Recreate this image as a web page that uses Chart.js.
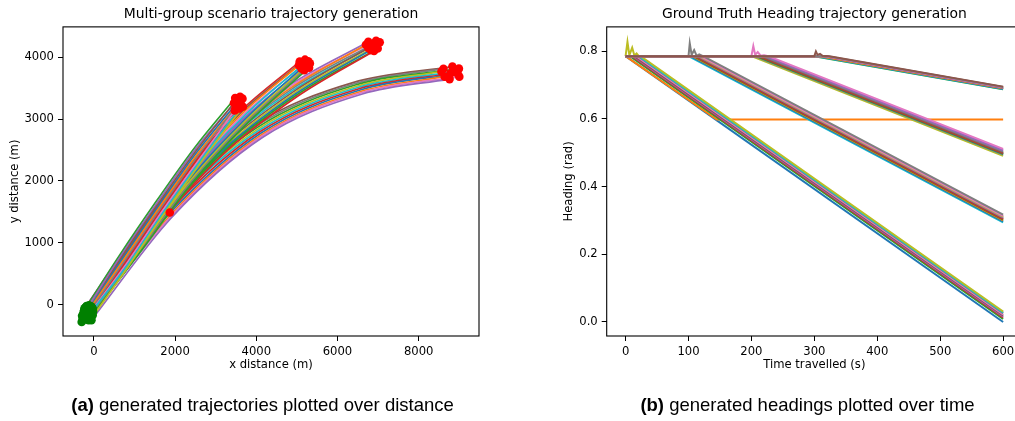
<!DOCTYPE html>
<html><head><meta charset="utf-8">
<script src="https://cdn.jsdelivr.net/npm/chart.js@4.4.0/dist/chart.umd.min.js"></script>
<style>
html,body{margin:0;padding:0;background:#fff;overflow:hidden;width:1015px;height:421px;position:relative;}
#c1{position:absolute;left:0;top:0;}
#c2{position:absolute;left:530px;top:0;}
.cap{position:absolute;top:395px;line-height:20px;font-family:"Liberation Sans",Arial,sans-serif;font-size:18.5px;color:#000;white-space:nowrap;transform:translateX(-50%);}
</style></head><body>
<canvas id="c1" width="500" height="421"></canvas>
<canvas id="c2" width="500" height="421"></canvas>
<div class="cap" style="left:262.5px"><b>(a)</b> generated trajectories plotted over distance</div>
<div class="cap" style="left:807.5px"><b>(b)</b> generated headings plotted over time</div>
<script>
// ---------- palette ----------
const TAB = {blue:'#1f77b4', orange:'#ff7f0e', green:'#2ca02c', red:'#d62728', purple:'#9467bd',
  brown:'#8c564b', pink:'#e377c2', gray:'#7f7f7f', olive:'#bcbd22', cyan:'#17becf'};

// ---------- left chart: trajectories (x, y in m) ----------
const leftXTicks = [0, 2000, 4000, 6000, 8000];
const leftYTicks = [0, 1000, 2000, 3000, 4000];

const colorsD = ['brown','gray','green','olive','cyan','red','blue','orange','pink','purple'];
const trajD = [
  [[-200,-40],[1680,1590],[3930,2890],[6380,3590],[8830,3849]],
  [[-250,-120],[1710,1570],[3960,2870],[6410,3570],[8610,3814]],
  [[-140,-70],[1740,1550],[3990,2850],[6440,3550],[8990,3815]],
  [[-280,-230],[1770,1530],[4020,2830],[6470,3530],[8560,3767]],
  [[-100,-110],[1800,1510],[4050,2810],[6500,3510],[8850,3763]],
  [[-170,-180],[1830,1490],[4080,2790],[6530,3490],[8780,3737]],
  [[-60,-90],[1860,1470],[4110,2770],[6560,3470],[8960,3732]],
  [[-120,-220],[1890,1450],[4140,2750],[6590,3450],[8640,3685]],
  [[-40,-150],[1900,1430],[4150,2730],[6600,3430],[9000,3686]],
  [[-60,-250],[1910,1405],[4160,2705],[6610,3405],[8760,3646]]
];
const colorsC = ['purple','pink','orange','gray','cyan','brown','olive','blue','green','red'];
const trajC = [
  [[-230,-60],[1270,1360],[2950,2590],[4800,3540],[6760,4250]],
  [[-160,-30],[1292,1340],[2972,2570],[4822,3520],[6950,4265]],
  [[-290,-180],[1314,1320],[2994,2550],[4844,3500],[6700,4200]],
  [[-130,-100],[1336,1300],[3016,2530],[4866,3480],[6880,4215]],
  [[-200,-160],[1358,1280],[3038,2510],[4888,3460],[7040,4240]],
  [[-80,-60],[1380,1260],[3060,2490],[4910,3440],[6760,4150]],
  [[-150,-210],[1402,1240],[3082,2470],[4932,3420],[6920,4170]],
  [[-50,-120],[1424,1220],[3104,2450],[4954,3400],[6820,4115]],
  [[-100,-190],[1446,1200],[3126,2430],[4976,3380],[6990,4140]],
  [[-30,-170],[1468,1180],[3148,2410],[4998,3360],[6900,4100]]
];
const colorsB = ['red','brown','orange','pink','cyan','purple','blue','olive','gray','green'];
const trajB = [
  [[-180,-20],[975,1058],[2233,2155],[3604,3125],[5070,3930]],
  [[-260,-150],[997,1038],[2255,2135],[3626,3105],[5200,3960]],
  [[-110,-40],[1019,1018],[2277,2115],[3648,3085],[5050,3870]],
  [[-210,-200],[1041,998],[2299,2095],[3670,3065],[5280,3935]],
  [[-70,-80],[1063,978],[2321,2075],[3692,3045],[5150,3880]],
  [[-160,-140],[1085,958],[2343,2055],[3714,3025],[5320,3900]],
  [[-40,-50],[1107,938],[2365,2035],[3736,3005],[5110,3820]],
  [[-130,-250],[1129,918],[2387,2015],[3758,2985],[5240,3850]],
  [[-20,-110],[1151,898],[2409,1995],[3780,2965],[5180,3790]],
  [[-90,-210],[1173,878],[2431,1975],[3802,2945],[5300,3830]]
];
const colorsA = ['green','purple','brown','blue','orange','gray','red','pink','cyan','olive'];
const trajA = [
  [[-240,-90],[654,821],[1558,1691],[2486,2542],[3480,3340]],
  [[-120,-10],[676,799],[1580,1669],[2508,2520],[3600,3360]],
  [[-300,-280],[698,777],[1602,1647],[2530,2498],[3450,3260]],
  [[-190,-130],[720,755],[1624,1625],[2552,2476],[3560,3290]],
  [[-60,-30],[742,733],[1646,1603],[2574,2454],[3660,3330]],
  [[-230,-240],[764,711],[1668,1581],[2596,2432],[3500,3190]],
  [[-100,-150],[786,689],[1690,1559],[2618,2410],[3620,3240]],
  [[-25,-70],[808,667],[1712,1537],[2640,2388],[3470,3140]],
  [[-160,-200],[830,645],[1734,1515],[2662,2366],[3580,3170]],
  [[-70,-230],[852,623],[1756,1493],[2684,2344],[3670,3200]]
];
const loneRedPoint = [[1870,1490]];

// ---------- right chart: heading (rad) over time (s) ----------
const rightXTicks = [0, 100, 200, 300, 400, 500, 600];
const rightYTicks = [0, 0.2, 0.4, 0.6, 0.8];

const colorsH1 = ['blue','orange','green','red','purple','brown','pink','gray','cyan','olive'];
const head1 = [
  [[0,0.785],[600,0.000]],
  [[0,0.785],[145,0.598],[600,0.598]],
  [[0,0.785],[7,0.785],[600,0.009]],
  [[0,0.785],[10,0.785],[600,0.013]],
  [[0,0.785],[12,0.785],[600,0.016]],
  [[0,0.785],[14,0.785],[600,0.019]],
  [[0,0.785],[17,0.785],[600,0.022]],
  [[0,0.785],[20,0.785],[600,0.026]],
  [[0,0.785],[21,0.785],[600,0.028]],
  [[0,0.785],[3,0.827],[6,0.788],[10.5,0.81],[14,0.787],[17.5,0.793],[21,0.785],[24,0.785],[600,0.031]]
];
const colorsH2 = ['cyan','blue','orange','green','red','brown','purple','olive','pink','gray'];
const head2 = [
  [[0,0.785],[100,0.785],[600,0.294]],
  [[0,0.785],[103,0.785],[600,0.297]],
  [[0,0.785],[106,0.785],[600,0.300]],
  [[0,0.785],[108,0.785],[600,0.302]],
  [[0,0.785],[110,0.785],[600,0.304]],
  [[0,0.785],[113,0.785],[600,0.307]],
  [[0,0.785],[115,0.785],[600,0.309]],
  [[0,0.785],[117,0.785],[600,0.311]],
  [[0,0.785],[119,0.785],[600,0.313]],
  [[0,0.785],[100,0.785],[102,0.823],[105,0.789],[109,0.803],[113,0.786],[117,0.79],[123,0.785],[600,0.317]]
];
const colorsH3 = ['olive','cyan','orange','blue','green','red','brown','gray','purple','pink'];
const head3 = [
  [[0,0.785],[200,0.785],[600,0.491]],
  [[0,0.785],[204,0.785],[600,0.494]],
  [[0,0.785],[205,0.785],[600,0.495]],
  [[0,0.785],[207,0.785],[600,0.496]],
  [[0,0.785],[208,0.785],[600,0.497]],
  [[0,0.785],[211,0.785],[600,0.499]],
  [[0,0.785],[214,0.785],[600,0.501]],
  [[0,0.785],[218,0.785],[600,0.504]],
  [[0,0.785],[222,0.785],[600,0.507]],
  [[0,0.785],[200,0.785],[203,0.815],[206,0.789],[210,0.797],[215,0.786],[220,0.788],[227,0.785],[600,0.511]]
];
const colorsH4 = ['green','cyan','blue','orange','olive','red','purple','pink','gray','brown'];
const head4 = [
  [[0,0.785],[300,0.785],[600,0.687]],
  [[0,0.785],[303,0.785],[600,0.688]],
  [[0,0.785],[306,0.785],[600,0.689]],
  [[0,0.785],[309,0.785],[600,0.690]],
  [[0,0.785],[312,0.785],[600,0.691]],
  [[0,0.785],[315,0.785],[600,0.692]],
  [[0,0.785],[317,0.785],[600,0.692]],
  [[0,0.785],[318,0.785],[600,0.693]],
  [[0,0.785],[321,0.785],[600,0.694]],
  [[0,0.785],[300,0.785],[302.5,0.799],[305,0.789],[309,0.792],[313,0.786],[324,0.785],[600,0.695]]
];

// ---------- helpers ----------
const FONT = 'DejaVu Sans';
const TICK_SIZE = 11.6;
const toXY = p => ({x: p[0], y: p[1]});

const frame = {
  id: 'frame',
  afterDraw(chart) {
    const {ctx, chartArea: a} = chart;
    ctx.save();
    ctx.strokeStyle = '#000';
    ctx.lineWidth = 1.1;
    ctx.strokeRect(a.left, a.top, a.right - a.left, a.bottom - a.top);
    ctx.restore();
  }
};

function axis(opts) {
  return {
    type: 'linear',
    min: opts.min, max: opts.max,
    afterBuildTicks: s => { s.ticks = opts.ticks.map(v => ({value: v})); },
    afterFit: opts.fit,
    ticks: {
      callback: opts.fmt, font: {family: FONT, size: TICK_SIZE}, color: '#000',
      padding: 4, maxRotation: 0, autoSkip: false, includeBounds: false
    },
    grid: {display: true, drawOnChartArea: false, drawTicks: true, tickLength: 5, color: '#000', lineWidth: 1},
    border: {display: false},
    title: {display: true, text: opts.title, color: '#000',
      font: {family: FONT, size: TICK_SIZE, lineHeight: 1.2}, padding: opts.titlePad}
  };
}

function baseOptions(title, padRight) {
  return {
    responsive: false, animation: false, devicePixelRatio: 1,
    layout: {padding: {left: 0, right: padRight, top: 0, bottom: 41}},
    plugins: {
      legend: {display: false}, tooltip: {enabled: false},
      title: {display: true, text: title, fullSize: false, color: '#000',
        font: {family: FONT, size: 13.9, weight: 'normal', lineHeight: 1.2},
        padding: {top: 6, bottom: 4.2}}
    }
  };
}

// ---------- left chart ----------
const leftGroups = [[trajD, colorsD], [trajC, colorsC], [trajB, colorsB], [trajA, colorsA]];
const leftDatasets = [];
let ord = 1000;
leftGroups.forEach(([trajs, cols]) => {
  trajs.forEach((t, i) => {
    leftDatasets.push({
      type: 'scatter', data: t.map(toXY), showLine: true, pointRadius: 0,
      borderColor: TAB[cols[i]], borderWidth: 1.7, cubicInterpolationMode: 'monotone',
      fill: false, order: ord--
    });
  });
});
const allTraj = [].concat(trajD, trajC, trajB, trajA);
leftDatasets.push({
  type: 'scatter', data: allTraj.map(t => toXY(t[0])), pointRadius: 4.3,
  pointBackgroundColor: 'green', pointBorderColor: 'green', pointBorderWidth: 0, showLine: false, order: 1
});
leftDatasets.push({
  type: 'scatter', data: allTraj.map(t => toXY(t[t.length - 1])).concat(loneRedPoint.map(toXY)), pointRadius: 4.3,
  pointBackgroundColor: 'red', pointBorderColor: 'red', pointBorderWidth: 0, showLine: false, order: 0
});

const leftOpts = baseOptions('Multi-group scenario trajectory generation', 21);
leftOpts.scales = {
  x: axis({min: -760, max: 9485, ticks: leftXTicks, fmt: v => String(v),
    fit: s => { s.height = 44; }, title: 'x distance (m)', titlePad: {top: 0, bottom: 8}}),
  y: axis({min: -506, max: 4490, ticks: leftYTicks, fmt: v => String(v),
    fit: s => { s.width = 63; }, title: 'y distance (m)', titlePad: {top: 8, bottom: 0}})
};
new Chart(document.getElementById('c1'), {type: 'scatter', data: {datasets: leftDatasets}, options: leftOpts, plugins: [frame]});

// ---------- right chart ----------
const rightGroups = [[head1, colorsH1], [head2, colorsH2], [head3, colorsH3], [head4, colorsH4]];
const rightDatasets = [];
let ord2 = 1000;
rightGroups.forEach(([lines, cols]) => {
  lines.forEach((l, i) => {
    rightDatasets.push({
      type: 'scatter', data: l.map(toXY), showLine: true, pointRadius: 0,
      borderColor: TAB[cols[i]], borderWidth: 2, tension: 0, fill: false, order: ord2--
    });
  });
});
const rightOpts = baseOptions('Ground Truth Heading trajectory generation', 8);
rightOpts.scales = {
  x: axis({min: -30, max: 630, ticks: rightXTicks, fmt: v => String(v),
    fit: s => { s.height = 44; }, title: 'Time travelled (s)', titlePad: {top: 0, bottom: 8}}),
  y: axis({min: -0.0415, max: 0.8715, ticks: rightYTicks, fmt: v => Number(v).toFixed(1),
    fit: s => { s.width = 76.7; }, title: 'Heading (rad)', titlePad: {top: 32, bottom: 0}})
};
new Chart(document.getElementById('c2'), {type: 'scatter', data: {datasets: rightDatasets}, options: rightOpts, plugins: [frame]});
</script>
</body></html>
